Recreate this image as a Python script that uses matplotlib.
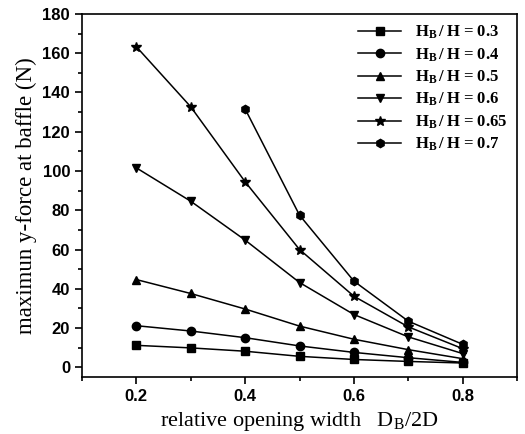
import numpy as np
import matplotlib
matplotlib.use("Agg")
import matplotlib.pyplot as plt
from matplotlib.ticker import MultipleLocator

x_full = [0.2, 0.3, 0.4, 0.5, 0.6, 0.7, 0.8]
x_07 = [0.4, 0.5, 0.6, 0.7, 0.8]

f_03 = [11.2, 9.9, 8.2, 5.6, 4.0, 3.0, 2.2]
f_04 = [21.2, 18.5, 15.1, 10.9, 7.6, 4.9, 2.5]
f_05 = [44.7, 37.6, 29.7, 21.0, 14.3, 9.0, 4.4]
f_06 = [101.6, 84.6, 64.8, 43.2, 26.9, 15.5, 7.0]
f_065 = [163.3, 132.7, 94.5, 60.0, 36.2, 20.6, 9.5]
f_07 = [131.6, 77.5, 43.9, 23.5, 11.7]

labels = ["0.3", "0.4", "0.5", "0.6", "0.65", "0.7"]

plt.rcParams["mathtext.fontset"] = "custom"
plt.rcParams["mathtext.rm"] = "Liberation Serif"
plt.rcParams["mathtext.bf"] = "Liberation Serif:bold"

fig = plt.figure(figsize=(5.25, 4.34), dpi=100)
ax = fig.add_axes([0.156, 0.131, 0.829, 0.837])

series = [(x_full, f_03, "s"), (x_full, f_04, "o"), (x_full, f_05, "^"),
          (x_full, f_06, "v"), (x_full, f_065, "*"), (x_07, f_07, "h")]
for (xs, ys, m), lab in zip(series, labels):
    ms = 7.5 if m == "*" else 6
    ax.plot(xs, ys, color="black", lw=1.1, marker=m, ms=ms,
            label=r"$\mathbf{H_B\,/\,H}$ = " + lab)

ax.set_xlim(0.1, 0.9)
ax.set_ylim(-5, 180)
ax.xaxis.set_major_locator(MultipleLocator(0.2))
ax.xaxis.set_minor_locator(MultipleLocator(0.1))
ax.yaxis.set_major_locator(MultipleLocator(20))
ax.yaxis.set_minor_locator(MultipleLocator(10))
ax.tick_params(which="both", direction="out", top=False, right=False, width=1.2)
ax.tick_params(which="major", length=5)
ax.tick_params(which="minor", length=3)
for lbl in ax.get_xticklabels() + ax.get_yticklabels():
    lbl.set_family("Liberation Sans")
    lbl.set_fontweight("bold")
    lbl.set_fontsize(12)
for s in ax.spines.values():
    s.set_linewidth(1.2)

ax.set_xlabel(r"relative opening width   D$_\mathregular{B}$/2D",
              family="Liberation Serif", fontsize=16)
ax.set_ylabel("maximun y-force at baffle (N)", family="Liberation Serif", fontsize=16.5)

leg = ax.legend(loc="upper right", frameon=False,
                prop={"family": "Liberation Serif", "weight": "bold", "size": 12},
                handlelength=2.6, labelspacing=0.3, borderaxespad=0.2)

fig.savefig("out.png", dpi=100)
